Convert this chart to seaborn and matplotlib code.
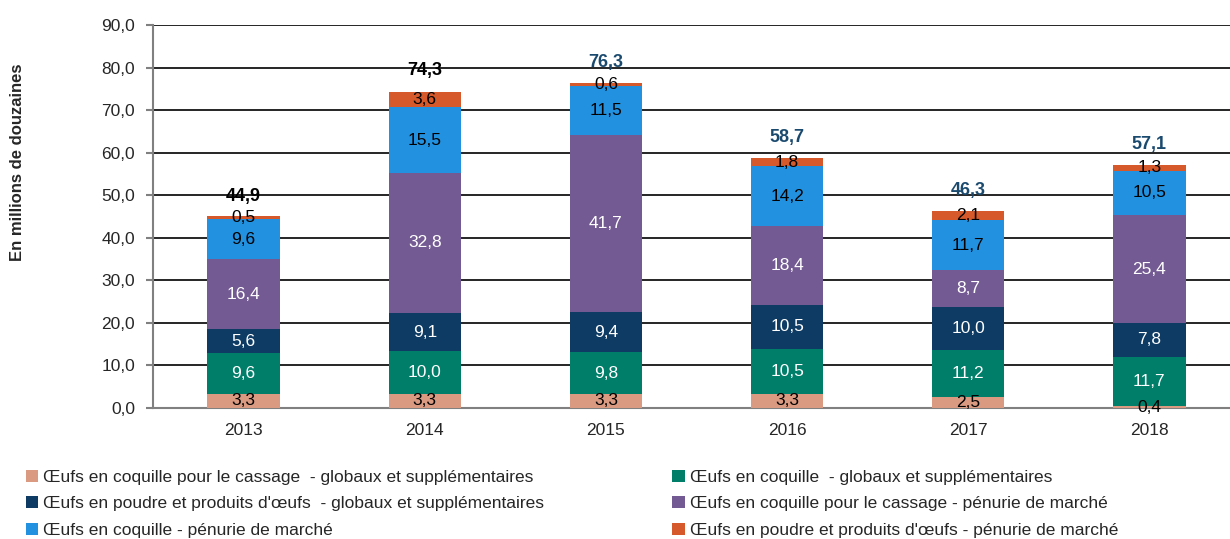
import numpy as np
import pandas as pd
import matplotlib
matplotlib.use("Agg")
import matplotlib.pyplot as plt
from matplotlib import font_manager
import seaborn as sns

# ── Data ──────────────────────────────────────────────────────────────────────
years = ["2013", "2014", "2015", "2016", "2017", "2018"]
series_names = [
    "Œufs en coquille pour le cassage  - globaux et supplémentaires",
    "Œufs en coquille  - globaux et supplémentaires",
    "Œufs en poudre et produits d'œufs  - globaux et supplémentaires",
    "Œufs en coquille pour le cassage - pénurie de marché",
    "Œufs en coquille - pénurie de marché",
    "Œufs en poudre et produits d'œufs - pénurie de marché",
]
cassage_glob = [3.3, 3.3, 3.3, 3.3, 2.5, 0.4]
coquille_glob = [9.6, 10.0, 9.8, 10.5, 11.2, 11.7]
poudre_glob = [5.6, 9.1, 9.4, 10.5, 10.0, 7.8]
cassage_pen = [16.4, 32.8, 41.7, 18.4, 8.7, 25.4]
coquille_pen = [9.6, 15.5, 11.5, 14.2, 11.7, 10.5]
poudre_pen = [0.5, 3.6, 0.6, 1.8, 2.1, 1.3]
totals = [44.9, 74.3, 76.3, 58.7, 46.3, 57.1]

colors = ["#DA9A82", "#007E69", "#0D3B64", "#735A92", "#2291DF", "#D5592A"]
label_colors = ["black", "white", "white", "white", "black", "black"]
total_colors = ["black", "black", "#1B4A6F", "#1B4A6F", "#1B4A6F", "#1B4A6F"]

sns.set_theme(style="white")
names = {f.name for f in font_manager.fontManager.ttflist}
base_font = "Liberation Sans" if "Liberation Sans" in names else "DejaVu Sans"
narrow_font = "Liberation Sans Narrow" if "Liberation Sans Narrow" in names else base_font
plt.rcParams["font.family"] = [base_font, "DejaVu Sans"]

fig = plt.figure(figsize=(12.3, 5.39), dpi=100)
ax = fig.add_axes([153 / 1230, 1 - 408 / 539, 1087 / 1230, 383 / 539])

stack = [cassage_glob, coquille_glob, poudre_glob, cassage_pen, coquille_pen, poudre_pen]
bottom = np.zeros(len(years))
for vals, name, col, lc in zip(stack, series_names, colors, label_colors):
    df = pd.DataFrame({"year": years, "val": vals})
    sns.barplot(data=df, x="year", y="val", bottom=bottom, color=col,
                width=0.4, errorbar=None, saturation=1, linewidth=0,
                label=name, ax=ax, zorder=3)
    for i, v in enumerate(vals):
        ax.text(i, bottom[i] + v / 2, f"{v:.1f}".replace(".", ","),
                ha="center", va="center", color=lc, fontsize=12.5, zorder=5)
    bottom = bottom + np.array(vals)

for i, t in enumerate(totals):
    ax.annotate(f"{t:.1f}".replace(".", ","), (i, t), xytext=(0, 15),
                textcoords="offset points", ha="center", va="center",
                fontsize=13, fontweight="bold", color=total_colors[i], zorder=5)

ax.set_ylim(0, 90)
ax.set_xlim(-0.5, 5.5)
ax.set_yticks(np.arange(0, 91, 10))
ax.set_yticklabels([f"{v:.1f}".replace(".", ",") for v in np.arange(0, 91, 10)],
                   fontsize=12.5)
ax.set_xticks(range(len(years)))
ax.set_xticklabels(years, fontsize=12.5)
ax.set_xticks(np.arange(-0.5, 5.6, 1), minor=True)
ax.tick_params(axis="x", which="major", length=0, pad=11)
ax.tick_params(axis="x", which="minor", length=5, color="#808080", width=1.5)
ax.tick_params(axis="y", length=5, color="#808080", width=1.5, left=True, pad=8)
ax.yaxis.grid(True, color="black", lw=1.2, zorder=0)
ax.set_axisbelow(True)
for s in ["top", "right"]:
    ax.spines[s].set_visible(False)
for s in ["left", "bottom"]:
    ax.spines[s].set_color("#808080")
    ax.spines[s].set_linewidth(1.5)
ax.set_xlabel("")
ax.set_ylabel("")
fig.text(18 / 1230, 1 - 162 / 539, "En millions de douzaines", rotation=90,
         ha="center", va="center", fontsize=12, fontweight="bold")

handles = [c.patches[0] for c in ax.containers]
order = [0, 2, 4, 1, 3, 5]
ax.legend([handles[k] for k in order], [series_names[k] for k in order],
          ncol=2, loc="upper left", bbox_to_anchor=(-143 / 1087, -0.12),
          frameon=False, handlelength=0.7, handleheight=0.7, handletextpad=0.3,
          columnspacing=7.4, labelspacing=0.66,
          prop={"family": narrow_font, "size": 12.5})

fig.savefig("out.png", dpi=100)
